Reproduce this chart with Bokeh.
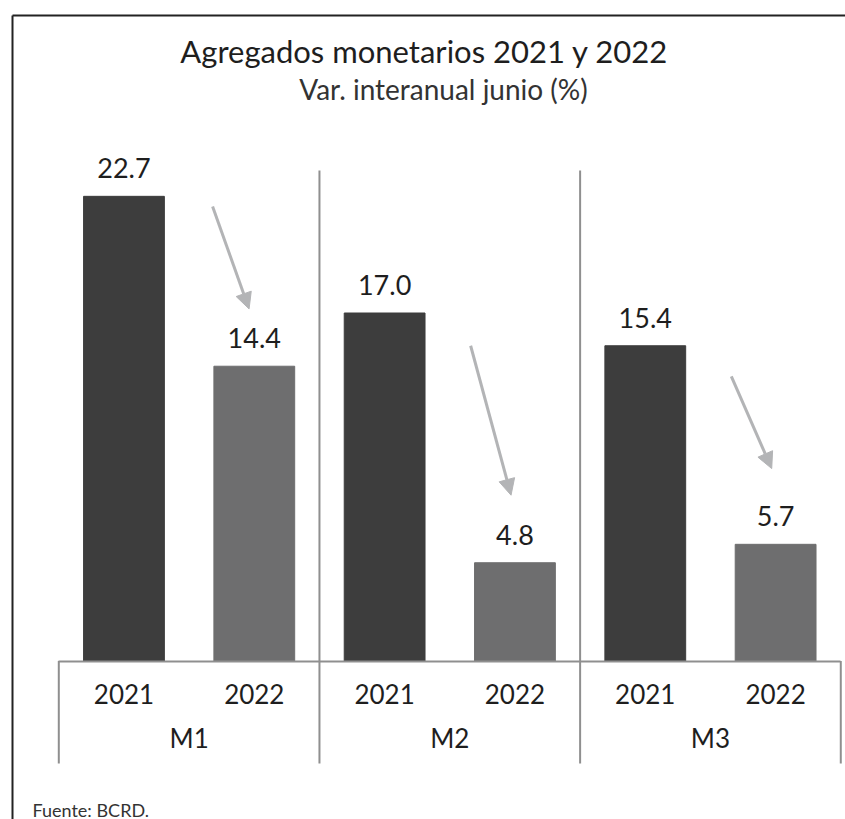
from bokeh.plotting import figure
from bokeh.models import (Range1d, LinearAxis, FixedTicker, Label, Arrow,
                          NormalHead, ColumnDataSource)
from bokeh.core.properties import value
from bokeh.embed import file_html
from bokeh.resources import INLINE

# ---- data ----
groups = ["M1", "M2", "M3"]
years = ["2021", "2022"]
values_2021 = [22.7, 17.0, 15.4]
values_2022 = [14.4, 4.8, 5.7]

title_text = "Agregados monetarios 2021 y 2022"
subtitle_text = "Var. interanual junio (%)"
source_text = "Fuente: BCRD."

# decorative arrows (x in category slots, y in %)
arrow_x_start = [1.18, 3.16, 5.16]
arrow_y_start = [22.2, 15.4, 13.9]
arrow_x_end = [1.46, 3.47, 5.47]
arrow_y_end = [17.2, 8.1, 9.4]

# ---- styles / layout ----
FONT = "Lato"
TXT = "#1e1e1e"
C2021 = "#3d3d3d"
C2022 = "#6e6e6f"
GRID = "#8f8f8f"
ARROW = "#b3b4b6"
BORDER = "#222222"

W, H = 845, 819
FRAME_LEFT, FRAME_TOP = 12, 15          # canvas pixels
FRAME_RIGHT, FRAME_BOTTOM = W, H
X0_PX, PX_PER_X = 58.3, 130.33          # px of slot 0, px per slot
Y0_PX, PX_PER_Y = 660.5, 20.47          # px of 0 %, px per %


def dx(px):
    return (px - X0_PX) / PX_PER_X


def dy(py):
    return (Y0_PX - py) / PX_PER_Y


# ---- derived table ----
ny = len(years)
xpos, vals, colors, labels = [], [], [], []
for gi, g in enumerate(groups):
    for yi, y in enumerate(years):
        v = (values_2021 if y == "2021" else values_2022)[gi]
        xpos.append(gi * ny + yi + 0.5)
        vals.append(v)
        colors.append(C2021 if y == "2021" else C2022)
        labels.append(f"{v:.1f}")
src = ColumnDataSource(dict(x=xpos, top=vals, color=colors, label=labels))
group_centers = [gi * ny + ny / 2 for gi in range(len(groups))]
bounds = [gi * ny for gi in range(len(groups) + 1)]

p = figure(
    x_range=Range1d(dx(FRAME_LEFT), dx(FRAME_RIGHT)),
    y_range=Range1d(dy(FRAME_BOTTOM), dy(FRAME_TOP)),
    width=W, height=H,
    output_backend="svg", toolbar_location=None, title=None,
    x_axis_location=None, y_axis_location=None,
    min_border_left=FRAME_LEFT, min_border_top=FRAME_TOP,
    min_border_right=W - FRAME_RIGHT, min_border_bottom=0,
)
p.outline_line_color = None
p.xgrid.visible = False
p.ygrid.visible = False


def border_axis():
    a = LinearAxis(ticker=FixedTicker(ticks=[]))
    a.axis_line_color = BORDER
    a.axis_line_width = 2
    a.major_tick_line_color = None
    a.minor_tick_line_color = None
    a.major_label_text_font_size = "0px"
    a.major_label_standoff = 0
    a.major_tick_out = 0
    a.minor_tick_out = 0
    return a


p.add_layout(border_axis(), "left")
p.add_layout(border_axis(), "above")

# bars and value labels
p.vbar(x="x", top="top", width=0.62, color="color", source=src)
p.text(x="x", y="top", text="label", source=src, text_align="center",
       text_baseline="alphabetic", y_offset=-28, text_font=value(FONT),
       text_font_size="27px", text_color=TXT)

# group separators
inner = bounds[1:-1]
p.segment(x0=inner, x1=inner, y0=[dy(763)] * len(inner), y1=[dy(170)] * len(inner),
          line_color=GRID, line_width=2)
outer = [bounds[0], bounds[-1]]
p.segment(x0=outer, x1=outer, y0=[dy(763)] * 2, y1=[0, 0],
          line_color=GRID, line_width=2)

for xs, ys, xe, ye in zip(arrow_x_start, arrow_y_start, arrow_x_end, arrow_y_end):
    p.add_layout(Arrow(end=NormalHead(size=16, fill_color=ARROW, line_color=ARROW),
                       x_start=xs, y_start=ys, x_end=xe, y_end=ye,
                       line_color=ARROW, line_width=3))

# category axes (years and groups)
year_axis = LinearAxis(ticker=FixedTicker(ticks=xpos),
                       major_label_overrides={x: years[i % ny] for i, x in enumerate(xpos)})
year_axis.fixed_location = 0
year_axis.bounds = (bounds[0], bounds[-1])
year_axis.axis_line_color = GRID
year_axis.axis_line_width = 2
year_axis.major_tick_line_color = None
year_axis.minor_tick_line_color = None
year_axis.major_label_standoff = 17
year_axis.major_label_text_font = FONT
year_axis.major_label_text_font_size = "26px"
year_axis.major_label_text_color = TXT
p.add_layout(year_axis, "below")

group_axis = LinearAxis(ticker=FixedTicker(ticks=group_centers),
                        major_label_overrides={x: groups[i] for i, x in enumerate(group_centers)})
group_axis.fixed_location = 0
group_axis.axis_line_color = None
group_axis.major_tick_line_color = None
group_axis.minor_tick_line_color = None
group_axis.major_label_standoff = 55
group_axis.major_label_text_font = FONT
group_axis.major_label_text_font_size = "26px"
group_axis.major_label_text_color = TXT
p.add_layout(group_axis, "below")

# titles and source note
p.add_layout(Label(x=dx(424), y=dy(50), text=title_text, text_align="center",
                   text_baseline="middle", text_font=FONT, text_font_size="31px",
                   text_color=TXT))
p.add_layout(Label(x=dx(443), y=dy(88), text=subtitle_text, text_align="center",
                   text_baseline="middle", text_font=FONT, text_font_size="28px",
                   text_color="#333333"))
p.add_layout(Label(x=dx(32), y=dy(809), text=source_text, text_align="left",
                   text_baseline="alphabetic", text_font=FONT, text_font_size="18px",
                   text_color="#333333"))

open("out.html", "w").write(file_html(p, INLINE))
